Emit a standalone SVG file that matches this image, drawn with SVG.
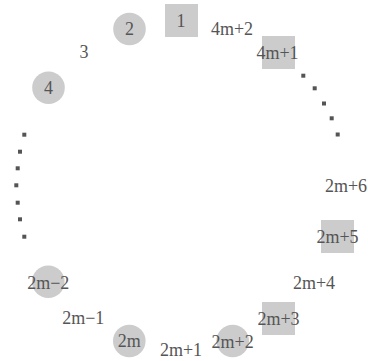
<svg xmlns="http://www.w3.org/2000/svg" width="368" height="361" viewBox="0 0 368 361">
<style>
  .c{fill:#cccccc}
  .s{fill:#cccccc}
  .t{font-family:"Liberation Serif","Times New Roman",serif;font-size:18px;fill:#555555;text-anchor:middle}
  .d{fill:#555555}
</style>
<rect width="368" height="361" fill="#ffffff"/>
<g id="connectors"/>
<g id="n1"><rect class="s" x="165" y="4" width="33" height="33"/><text class="t" x="181" y="26.6">1</text></g>
<g id="n2"><circle class="c" cx="129.5" cy="29" r="16.3"/><text class="t" x="129.5" y="35">2</text></g>
<g id="n3"><text class="t" x="84" y="58">3</text></g>
<g id="n4"><circle class="c" cx="48.5" cy="87.7" r="16.3"/><text class="t" x="48.5" y="93.7">4</text></g>
<g id="n2m-2"><circle class="c" cx="48.3" cy="281.7" r="16.3"/><text class="t" x="48.3" y="288.8">2m−2</text></g>
<g id="n2m-1"><text class="t" x="83.3" y="324.3">2m−1</text></g>
<g id="n2m"><circle class="c" cx="129.3" cy="341" r="16.3"/><text class="t" x="129.3" y="347.2">2m</text></g>
<g id="n2m+1"><text class="t" x="181" y="356.2">2m+1</text></g>
<g id="n2m+2"><circle class="c" cx="232.7" cy="341" r="16.3"/><text class="t" x="232.7" y="348.2">2m+2</text></g>
<g id="n2m+3"><rect class="s" x="262" y="302" width="33" height="33"/><text class="t" x="278.5" y="324.6">2m+3</text></g>
<g id="n2m+4"><text class="t" x="314" y="289.3">2m+4</text></g>
<g id="n2m+5"><rect class="s" x="321" y="220" width="33" height="33"/><text class="t" x="337.5" y="242.6">2m+5</text></g>
<g id="n2m+6"><text class="t" x="346" y="191.8">2m+6</text></g>
<g id="n4m+1"><rect class="s" x="262" y="36" width="33" height="33"/><text class="t" x="277.5" y="58.6">4m+1</text></g>
<g id="n4m+2"><text class="t" x="232" y="35">4m+2</text></g>
<g id="ellipsis-left" class="d">
  <rect x="22.3" y="132.7" width="4" height="4"/>
  <rect x="18" y="149.7" width="4" height="4"/>
  <rect x="15.7" y="166.3" width="4" height="4"/>
  <rect x="14.3" y="183.3" width="4" height="4"/>
  <rect x="15.7" y="200.7" width="4" height="4"/>
  <rect x="18" y="217.3" width="4" height="4"/>
  <rect x="22.3" y="234.7" width="4" height="4"/>
</g>
<g id="ellipsis-right" class="d">
  <rect x="301.3" y="73.7" width="4" height="4"/>
  <rect x="312.7" y="86.3" width="4" height="4"/>
  <rect x="322" y="101.5" width="4" height="4"/>
  <rect x="329.7" y="116.3" width="4" height="4"/>
  <rect x="335.7" y="132.5" width="4" height="4"/>
</g>
</svg>
